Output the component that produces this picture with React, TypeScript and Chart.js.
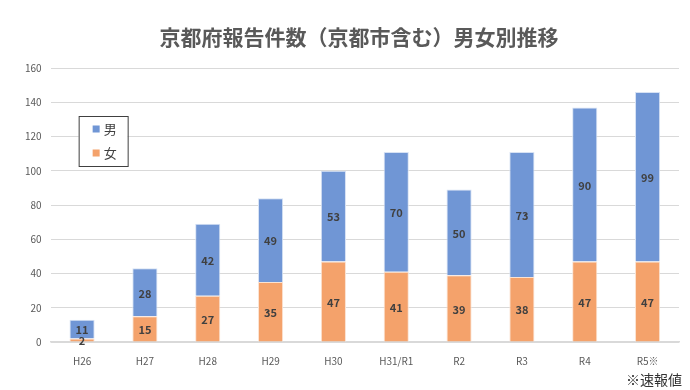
import React, { useEffect, useRef } from "react";
import { Chart, registerables } from "chart.js";

Chart.register(...registerables);

const categories = ["H26", "H27", "H28", "H29", "H30", "H31/R1", "R2", "R3", "R4", "R5※"];
const femaleValues = [2, 15, 27, 35, 47, 41, 39, 38, 47, 47];
const maleValues = [11, 28, 42, 49, 53, 70, 50, 73, 90, 99];
const yTicks = [0, 20, 40, 60, 80, 100, 120, 140, 160];
const titleText = "京都府報告件数（京都市含む）男女別推移";
const footnote = "※速報値";

const BLUE = "#7096D5";
const ORANGE = "#F4A26B";
const FONT = "'Noto Sans CJK JP', 'Noto Sans', sans-serif";

const dataLabelPlugin = {
  id: "dataLabels",
  afterDatasetsDraw(chart: any) {
    const ctx = chart.ctx;
    ctx.save();
    ctx.font = `bold 11px ${FONT}`;
    ctx.fillStyle = "#404040";
    ctx.textAlign = "center";
    ctx.textBaseline = "middle";
    chart.data.datasets.forEach((ds: any, di: number) => {
      const meta = chart.getDatasetMeta(di);
      meta.data.forEach((bar: any, i: number) => {
        const y = (bar.y + bar.base) / 2;
        ctx.fillText(String(ds.data[i]), bar.x, y + 1);
      });
    });
    ctx.restore();
  },
};

const titlePlugin = {
  id: "customTitle",
  afterDraw(chart: any) {
    const ctx = chart.ctx;
    ctx.save();
    ctx.font = `bold 21px ${FONT}`;
    ctx.fillStyle = "#595959";
    ctx.textAlign = "center";
    ctx.textBaseline = "middle";
    ctx.fillText(titleText, 359, 37);
    ctx.restore();
  },
};

const legendBoxPlugin = {
  id: "legendBox",
  afterDraw(chart: any) {
    const ctx = chart.ctx;
    const a = chart.chartArea;
    const x = a.left + 28;
    const y = a.top + 48;
    const w = 49;
    const h = 50;
    ctx.save();
    ctx.fillStyle = "#ffffff";
    ctx.fillRect(x, y, w, h);
    ctx.strokeStyle = "#404040";
    ctx.lineWidth = 1;
    ctx.strokeRect(x + 0.5, y + 0.5, w, h);
    const items = [chart.data.datasets[1], chart.data.datasets[0]];
    ctx.font = `13px ${FONT}`;
    ctx.textBaseline = "middle";
    items.forEach((ds: any, i: number) => {
      const cy = y + 13 + i * 24;
      ctx.fillStyle = ds.backgroundColor;
      ctx.fillRect(x + 14, cy - 3.5, 7, 7);
      ctx.fillStyle = "#404040";
      ctx.textAlign = "left";
      ctx.fillText(ds.label, x + 25, cy);
    });
    ctx.restore();
  },
};

export default function App() {
  const ref = useRef<HTMLCanvasElement>(null);
  useEffect(() => {
    document.body.style.margin = "0";
    const chart = new Chart(ref.current as HTMLCanvasElement, {
      type: "bar",
      data: {
        labels: categories,
        datasets: [
          {
            label: "女",
            data: femaleValues,
            backgroundColor: ORANGE,
            borderColor: "#fbe3d2",
            borderWidth: 1,
            categoryPercentage: 1,
            barPercentage: 0.4,
          },
          {
            label: "男",
            data: maleValues,
            backgroundColor: BLUE,
            borderColor: "#d7e2f4",
            borderWidth: 1,
            categoryPercentage: 1,
            barPercentage: 0.4,
          },
        ],
      },
      options: {
        animation: false,
        responsive: false,
        layout: { padding: { left: 16, right: 11, bottom: 18, top: 68 } },
        plugins: {
          legend: { display: false },
          tooltip: { enabled: false },
          title: { display: false },
        },
        scales: {
          x: {
            stacked: true,
            grid: { display: false },
            border: { color: "#d9d9d9", width: 1.5 },
            ticks: { color: "#595959", font: { family: FONT, size: 10 }, padding: 5 },
          },
          y: {
            stacked: true,
            min: 0,
            max: 160,
            afterBuildTicks: (axis: any) => {
              axis.ticks = yTicks.map((v) => ({ value: v }));
            },
            grid: { color: "#d9d9d9", drawTicks: false },
            border: { display: false },
            ticks: { color: "#595959", font: { family: FONT, size: 10 }, padding: 9 },
          },
        },
      },
      plugins: [dataLabelPlugin, legendBoxPlugin, titlePlugin],
    });
    return () => chart.destroy();
  }, []);
  return (
    <div style={{ position: "relative", width: 690, height: 390, background: "#fff" }}>
      <canvas ref={ref} width={690} height={390} />
      <div
        style={{
          position: "absolute",
          right: 8,
          top: 369,
          fontFamily: FONT,
          fontSize: 14,
          color: "#333",
          lineHeight: "20px",
        }}
      >
        {footnote}
      </div>
    </div>
  );
}
